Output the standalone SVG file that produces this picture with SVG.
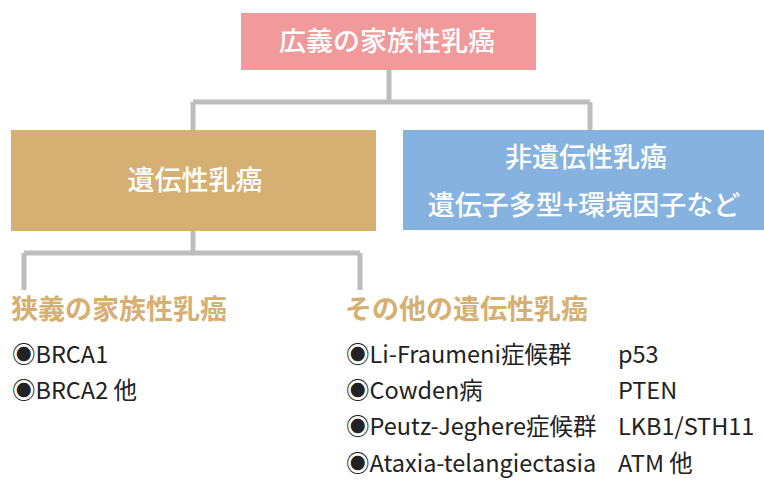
<svg xmlns="http://www.w3.org/2000/svg" width="764" height="482" viewBox="0 0 764 482">
<style>
text{font-family:"Noto Sans CJK JP","Noto Sans",sans-serif}
.w{fill:#fff;font-size:27px;text-anchor:middle;font-weight:500}
.h{fill:#D6AF73;font-size:27px;font-weight:bold}
.t{fill:#222;font-size:23.5px}
.c{fill:none;stroke:#BDBDBD;stroke-width:5}
</style>
<rect width="764" height="482" fill="#fff"/>
<g id="connectors">
<path class="c" d="M389 70V102M193 102H590M193 102V130M590 102V130"/>
<path class="c" d="M193 231V253M24 253H360M24 253V290M360 253V290"/>
</g>
<g id="top">
<rect x="241" y="13" width="295" height="57" fill="#F09A9C"/>
<text class="w" x="387" y="51">広義の家族性乳癌</text>
</g>
<g id="hered">
<rect x="11" y="130" width="365" height="101" fill="#D6AF73"/>
<text class="w" x="195" y="190">遺伝性乳癌</text>
</g>
<g id="nonhered">
<rect x="403" y="130" width="361" height="100" fill="#85B2DF"/>
<text class="w" x="586" y="167">非遺伝性乳癌</text>
<text class="w" x="584" y="215">遺伝子多型+環境因子など</text>
</g>
<g id="narrow">
<text class="h" x="11" y="319">狭義の家族性乳癌</text>
<text class="t" x="12" y="363">◉BRCA1</text>
<text class="t" x="12" y="399">◉BRCA2 他</text>
</g>
<g id="other">
<text class="h" x="345" y="319">その他の遺伝性乳癌</text>
<text class="t" x="346" y="363">◉Li-Fraumeni症候群</text>
<text class="t" x="346" y="399">◉Cowden病</text>
<text class="t" x="346" y="435">◉Peutz-Jeghere症候群</text>
<text class="t" x="346" y="472">◉Ataxia-telangiectasia</text>
<text class="t" x="618" y="363">p53</text>
<text class="t" x="618" y="399">PTEN</text>
<text class="t" x="618" y="435">LKB1/STH11</text>
<text class="t" x="618" y="472">ATM 他</text>
</g>
</svg>
